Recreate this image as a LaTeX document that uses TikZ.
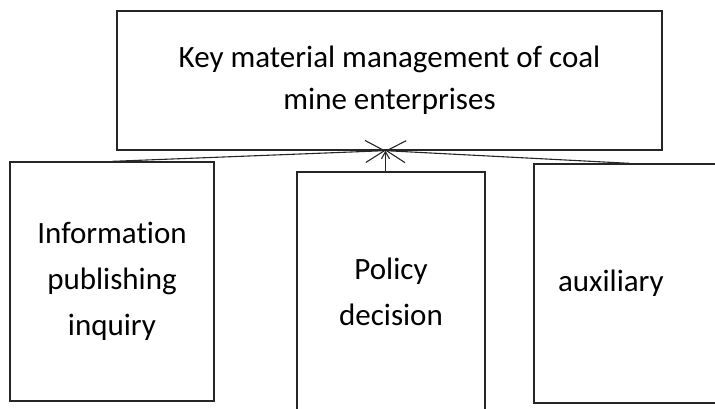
\documentclass[tikz,border=0pt]{standalone}
\usepackage{fontspec}
\setmainfont{Carlito}[Ligatures=NoCommon]
\usetikzlibrary{arrows.meta}

\tikzset{
  box/.style={draw=black!85, line width=1.3pt, rectangle, align=center,
    font=\fontsize{31}{46}\selectfont},
  link/.style={draw=black!85, line width=1.1pt,
    -{Straight Barb[length=19pt,width=22pt,line width=1.1pt]}},
  uplink/.style={draw=black!85, line width=1.1pt,
    -{Straight Barb[length=7pt,width=8pt,line width=1.1pt]}}
}

\begin{document}
\begin{tikzpicture}[x=1pt,y=-1pt]
\useasboundingbox (0,0) rectangle (715,408);

%% top box
\node[box, minimum width=545pt, minimum height=139pt,
      font=\fontsize{31}{42}\selectfont]
  (top) at (389.5,80.5) {Key material management of coal\\mine enterprises};
\coordinate (hub) at ([xshift=-4pt]top.south);

%% the three boxes below
\node[box, minimum width=204pt, minimum height=239pt]
  (info) at (112,281.5) {Information\\publishing\\inquiry};
\node[box, minimum width=188pt, minimum height=240pt]
  (policy) at (391,292) {Policy\\decision};
\node[box, minimum width=192pt, minimum height=239pt, align=left,
      text width=144pt, inner xsep=24pt]
  (aux) at (630,283.5) {auxiliary};

%% links up to the top box
\draw[link] (info.north) -- (hub);
\draw[link] (aux.north) -- (hub);
\draw[uplink] (policy.north -| hub) -- (hub);
\end{tikzpicture}
\end{document}
